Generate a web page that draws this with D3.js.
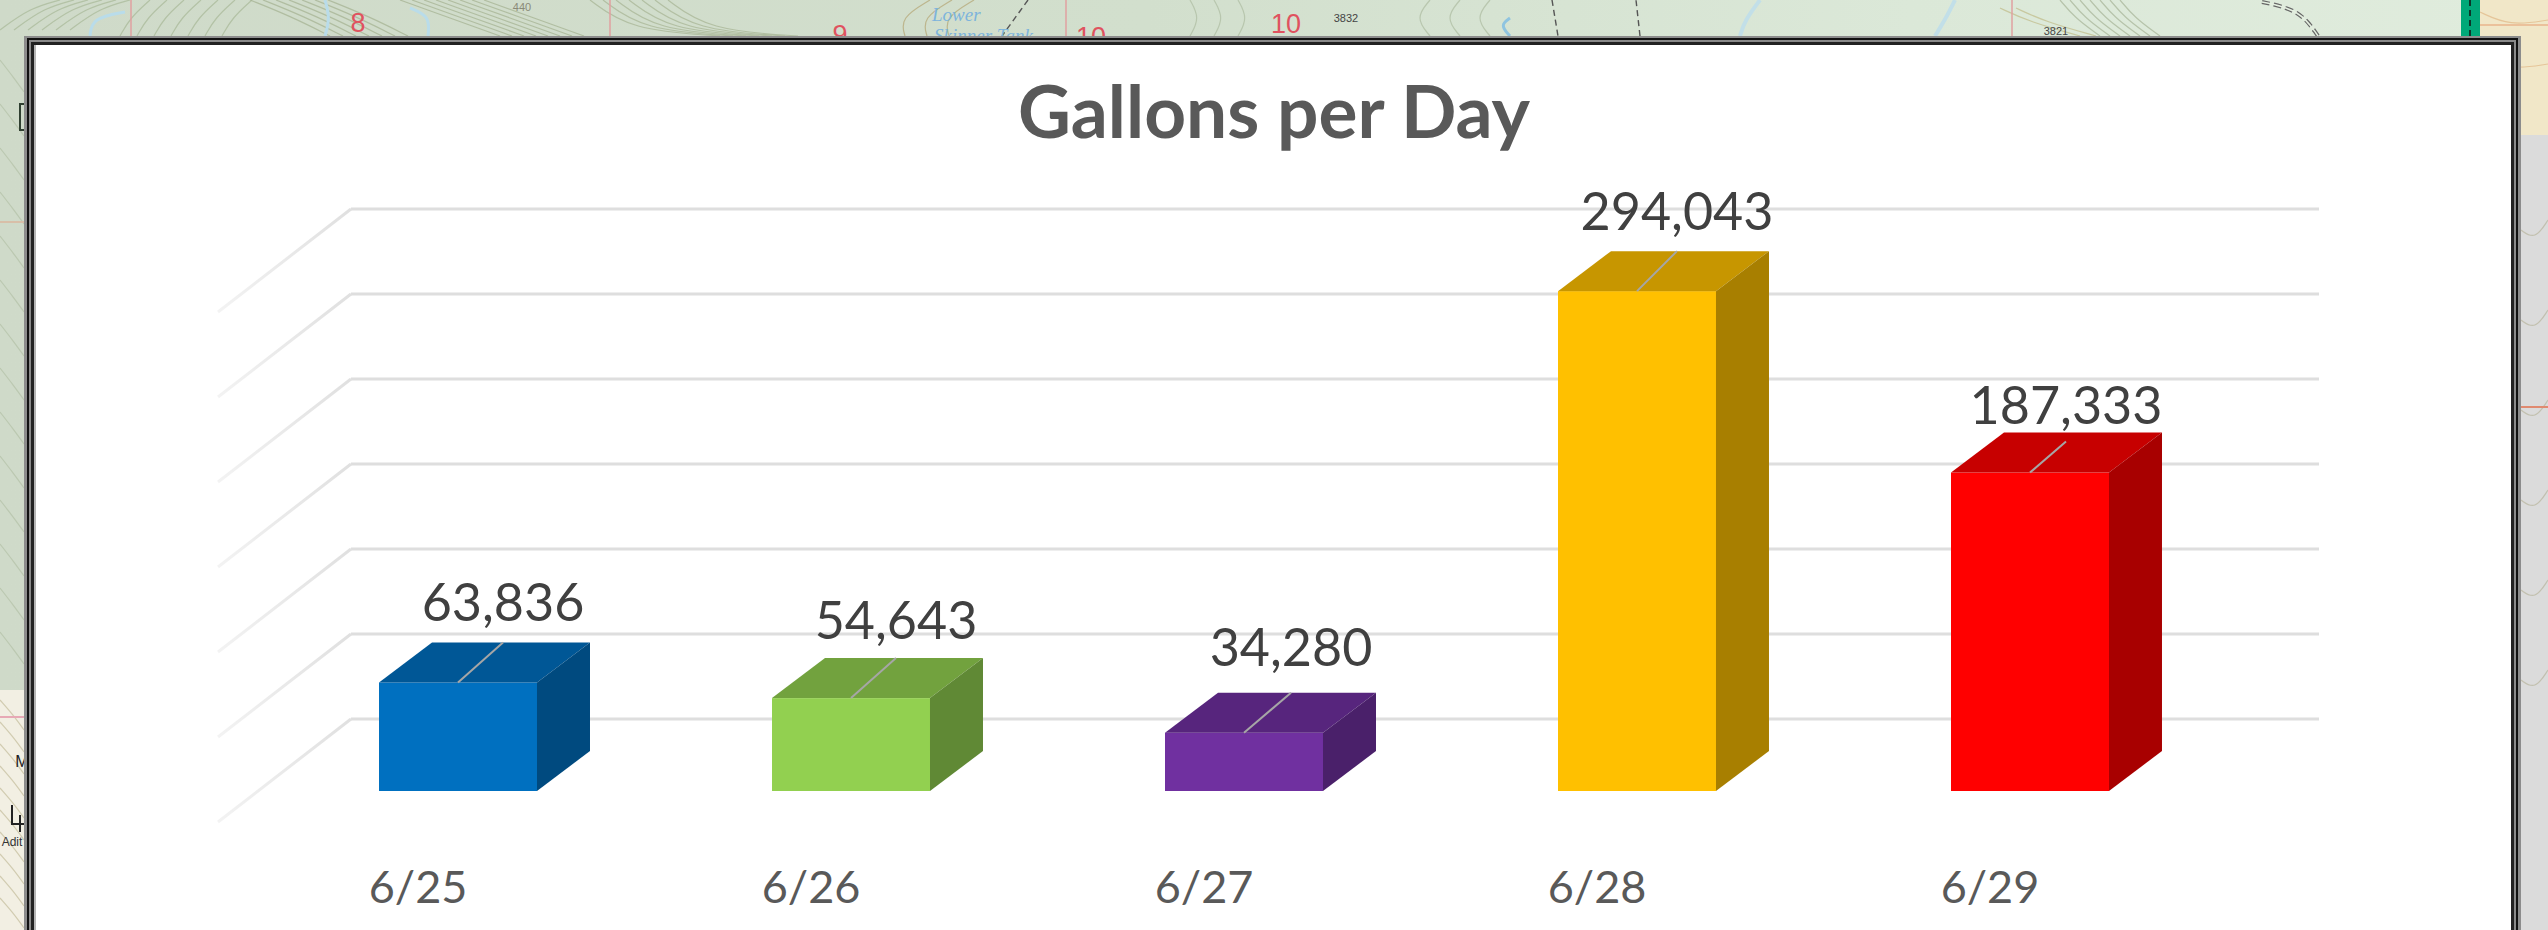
<!DOCTYPE html>
<html>
<head>
<meta charset="utf-8">
<title>Gallons per Day</title>
<script src="https://cdn.jsdelivr.net/npm/d3@7"></script>
<style>
    html, body { margin: 0; padding: 0; background: #fff; overflow: hidden; }
    svg { display: block; }
</style>
</head>
<body>
<svg id="vis" width="2548" height="930"></svg>
<script>
// chart data
var days = ['6/25', '6/26', '6/27', '6/28', '6/29'];
var gallons = [63836, 54643, 34280, 294043, 187333];
var gridValues = [0, 50000, 100000, 150000, 200000, 250000, 300000];
var barColors = ['#0070c0', '#92d050', '#7030a0', '#ffc000', '#ff0000'];

// labels were dragged by hand in the original, so each one has its own nudge
var labelNudgeX = [45, 45, 47, 40, 36];
var labelNudgeY = [-21, -19, -27, -21, -9];
var leaderRise = [40, 40, 40, 40, 31];

var width = 2548, height = 930;
var panel = { left: 36, top: 45, right: 2511 };
var wallBase = 719, floorFront = 791;
var barDepth = { x: 53, y: 40 };
var wallDepth = { x: -133, y: 103 };

var svg = d3.select('#vis');

var xScale = d3.scaleBand()
    .domain(days)
    .range([144, 2344])
    .padding(0.598);

var yScale = d3.scaleLinear()
    .domain([0, 300000])
    .range([0, 510]);

drawMap();
drawPanel();
drawGrid();
drawBars();
drawLabels();

function drawMap() {
    var defs = svg.append('defs');
    var topFill = defs.append('linearGradient').attr('id', 'top-fill');
    topFill.append('stop').attr('offset', '0').attr('stop-color', '#cfdac9');
    topFill.append('stop').attr('offset', '0.45').attr('stop-color', '#d2dfcd');
    topFill.append('stop').attr('offset', '0.75').attr('stop-color', '#dbe8d8');
    topFill.append('stop').attr('offset', '1').attr('stop-color', '#e0ecdd');

    var map = svg.append('g').attr('id', 'map');
    map.append('rect').attr('width', width).attr('height', height).attr('fill', 'url(#top-fill)');
    map.append('rect').attr('y', 690).attr('width', 24).attr('height', 240).attr('fill', '#f2efe3');
    map.append('rect').attr('x', 2480).attr('width', 68).attr('height', 135).attr('fill', '#f1e7c8');
    map.append('rect').attr('x', 2480).attr('y', 135).attr('width', 68).attr('height', 795).attr('fill', '#dbdbdb');

    var curve = d3.line().curve(d3.curveBasis);
    var contours = [
        { pts: [[0, 30], [30, 8], [60, 0]], n: 6, dx: 14, color: '#a9b99a' },
        { pts: [[120, 36], [130, 18], [150, 0]], n: 7, dx: 17, color: '#a9b99a' },
        { pts: [[250, 0], [290, 16], [330, 36]], n: 7, dx: 13, color: '#a5b393' },
        { pts: [[400, 0], [450, 18], [500, 36]], n: 8, dx: 12, color: '#a5b393' },
        { pts: [[590, 0], [630, 30], [720, 36]], n: 7, dx: 13, color: '#a8b596' },
        { pts: [[930, 0], [900, 18], [905, 36]], n: 3, dx: 22, color: '#b6a878' },
        { pts: [[1190, 36], [1200, 18], [1190, 0]], n: 3, dx: 24, color: '#afbea3' },
        { pts: [[1430, 36], [1415, 18], [1430, 0]], n: 3, dx: 30, color: '#afbea3' },
        { pts: [[2060, 0], [2075, 18], [2100, 36]], n: 7, dx: 10, color: '#a9b79b' },
        { pts: [[2000, 8], [2030, 22], [2080, 36]], n: 2, dx: 16, color: '#c1bd8c' },
        { pts: [[0, 60], [14, 78], [24, 92]], n: 14, dy: 44, color: '#b4c2a8' },
        { pts: [[0, 700], [14, 716], [24, 730]], n: 10, dy: 22, color: '#c6bf9f' },
        { pts: [[2480, 12], [2510, 26], [2548, 20]], n: 2, dy: 44, color: '#e2b98a' },
        { pts: [[2521, 230], [2535, 240], [2548, 220]], n: 6, dy: 90, color: '#b9b7a0' }
    ];
    contours.forEach(function (c) {
        d3.range(c.n).forEach(function (i) {
            map.append('path')
                .attr('d', curve(c.pts))
                .attr('transform', 'translate(' + (i * (c.dx || 0)) + ',' + (i * (c.dy || 0)) + ')')
                .attr('fill', 'none')
                .attr('stroke', c.color)
                .attr('stroke-width', 1.2)
                .attr('opacity', 0.75);
        });
    });

    // section lines and roads
    [[131, 0, 131, 36], [610, 0, 610, 36], [1066, 0, 1066, 36], [2012, 0, 2012, 36]].forEach(function (l) {
        map.append('line').attr('x1', l[0]).attr('y1', l[1]).attr('x2', l[2]).attr('y2', l[3])
            .attr('stroke', '#e0a0a0').attr('stroke-width', 1.5);
    });
    map.append('line').attr('x1', 0).attr('y1', 222).attr('x2', 24).attr('y2', 222)
        .attr('stroke', '#d8bfa8').attr('stroke-width', 2);
    map.append('line').attr('x1', 0).attr('y1', 717).attr('x2', 24).attr('y2', 717)
        .attr('stroke', '#e7a9b5').attr('stroke-width', 2);
    map.append('line').attr('x1', 2521).attr('y1', 407).attr('x2', 2548).attr('y2', 407)
        .attr('stroke', '#e08a70').attr('stroke-width', 2);
    map.append('line').attr('x1', 2480).attr('y1', 25).attr('x2', 2548).attr('y2', 25)
        .attr('stroke', '#e8b48c').attr('stroke-width', 1.5);
    [[1028, 0, 1002, 36], [1552, 0, 1558, 36], [1640, 36, 1636, 0]].forEach(function (l) {
        map.append('line').attr('x1', l[0]).attr('y1', l[1]).attr('x2', l[2]).attr('y2', l[3])
            .attr('stroke', '#555').attr('stroke-width', 1.4).attr('stroke-dasharray', '6 4');
    });
    map.append('path')
        .attr('d', curve([[2262, 2], [2300, 10], [2318, 36]]))
        .attr('fill', 'none').attr('stroke', '#666').attr('stroke-width', 4).attr('stroke-dasharray', '8 4');
    map.append('path')
        .attr('d', curve([[2262, 2], [2300, 10], [2318, 36]]))
        .attr('fill', 'none').attr('stroke', '#e4efe0').attr('stroke-width', 1.5);

    // creek and water
    [[[90, 36], [92, 18], [125, 12]], [[325, 36], [330, 18], [325, 0]], [[410, 8], [430, 16], [428, 36]]].forEach(function (pts) {
        map.append('path').attr('d', curve(pts)).attr('fill', 'none')
            .attr('stroke', '#b9dcea').attr('stroke-width', 3);
    });
    map.append('path').attr('d', curve([[1510, 36], [1500, 25], [1510, 18]])).attr('fill', 'none')
        .attr('stroke', '#8fc4e0').attr('stroke-width', 3);
    map.append('path').attr('d', curve([[1760, 0], [1745, 20], [1740, 36]])).attr('fill', 'none')
        .attr('stroke', '#c2dfe8').attr('stroke-width', 4);
    map.append('path').attr('d', curve([[1955, 0], [1945, 20], [1935, 36]])).attr('fill', 'none')
        .attr('stroke', '#c2dfe8').attr('stroke-width', 4);

    // green boundary strip
    map.append('rect').attr('x', 2461).attr('width', 19).attr('height', 36).attr('fill', '#00a878');
    map.append('line').attr('x1', 2470).attr('y1', 0).attr('x2', 2470).attr('y2', 36)
        .attr('stroke', '#111').attr('stroke-width', 1.5).attr('stroke-dasharray', '6 4');

    // map lettering
    var mapText = [
        { t: '8', x: 358, y: 32, size: 27, fill: '#e0525f' },
        { t: '9', x: 840, y: 44, size: 27, fill: '#e0525f' },
        { t: '10', x: 1091, y: 46, size: 27, fill: '#e0525f' },
        { t: '10', x: 1286, y: 33, size: 27, fill: '#e0525f' },
        { t: '3832', x: 1346, y: 22, size: 11, fill: '#444' },
        { t: '3821', x: 2056, y: 35, size: 11, fill: '#444' },
        { t: '440', x: 522, y: 11, size: 11, fill: '#8a8a78' },
        { t: 'Adit', x: 12, y: 846, size: 12, fill: '#333' },
        { t: 'M', x: 22, y: 767, size: 16, fill: '#222' }
    ];
    map.selectAll('text.map-num').data(mapText).enter().append('text')
        .attr('class', 'map-num')
        .attr('x', function (d) { return d.x; })
        .attr('y', function (d) { return d.y; })
        .attr('text-anchor', 'middle')
        .attr('font-family', 'Liberation Sans')
        .attr('font-size', function (d) { return d.size; })
        .attr('fill', function (d) { return d.fill; })
        .text(function (d) { return d.t; });

    map.append('text').attr('x', 932).attr('y', 21).attr('font-family', 'Liberation Serif')
        .attr('font-style', 'italic').attr('font-size', 19).attr('fill', '#7db4dc').text('Lower');
    map.append('text').attr('x', 934).attr('y', 42).attr('font-family', 'Liberation Serif')
        .attr('font-style', 'italic').attr('font-size', 19).attr('fill', '#7db4dc').text('Skinner Tank');

    // adit symbol on the left edge
    map.append('path').attr('d', 'M12,805V824H24M20,815V832')
        .attr('fill', 'none').attr('stroke', '#222').attr('stroke-width', 2);
    map.append('path').attr('d', 'M24,104H20V130H24')
        .attr('fill', 'none').attr('stroke', '#2f3f30').attr('stroke-width', 2);
}

function drawPanel() {
    var g = svg.append('g').attr('id', 'panel');
    // nested frame, outer to inner
    var rings = [
        { inset: 0, color: '#8c8c8c' },
        { inset: 3, color: '#111111' },
        { inset: 5, color: '#8a8a8a' },
        { inset: 7, color: '#222222' },
        { inset: 10, color: '#b5b5b5' }
    ];
    rings.forEach(function (r) {
        g.append('rect')
            .attr('x', 24 + r.inset)
            .attr('y', 36 + Math.max(0, r.inset - 1))
            .attr('width', 2521 - 24 - 2 * r.inset)
            .attr('height', height)
            .attr('fill', r.color);
    });
    g.append('rect')
        .attr('x', panel.left)
        .attr('y', panel.top)
        .attr('width', panel.right - panel.left)
        .attr('height', height)
        .attr('fill', '#fff');

    g.append('text')
        .attr('x', 1274)
        .attr('y', 138)
        .attr('text-anchor', 'middle')
        .attr('font-family', 'Lato')
        .attr('font-weight', 700)
        .attr('font-size', 73)
        .attr('fill', '#595959')
        .text('Gallons per Day');
}

function drawGrid() {
    var defs = svg.select('defs');
    var fade = defs.append('linearGradient')
        .attr('id', 'wall-fade')
        .attr('x1', 1).attr('y1', 0).attr('x2', 0).attr('y2', 1);
    fade.append('stop').attr('offset', '0').attr('stop-color', '#e0e0e0');
    fade.append('stop').attr('offset', '1').attr('stop-color', '#f3f3f3');

    var grid = svg.append('g').attr('id', 'grid');
    var gridLeft = 351, gridRight = 2319;

    grid.selectAll('.back-line')
        .data(gridValues)
        .enter().append('line')
        .attr('class', 'back-line')
        .attr('x1', gridLeft)
        .attr('x2', gridRight)
        .attr('y1', function (d) { return wallBase - yScale(d); })
        .attr('y2', function (d) { return wallBase - yScale(d); })
        .attr('stroke', '#dedede')
        .attr('stroke-width', 3);

    grid.selectAll('.wall-line')
        .data(gridValues)
        .enter().append('line')
        .attr('class', 'wall-line')
        .attr('x1', gridLeft)
        .attr('x2', gridLeft + wallDepth.x)
        .attr('y1', function (d) { return wallBase - yScale(d); })
        .attr('y2', function (d) { return wallBase - yScale(d) + wallDepth.y; })
        .attr('stroke', 'url(#wall-fade)')
        .attr('stroke-width', 3);
}

function drawBars() {
    var bars = svg.append('g').attr('id', 'bars')
        .selectAll('g')
        .data(gallons)
        .enter().append('g');

    function x0(i) { return xScale(days[i]); }
    function x1(i) { return x0(i) + xScale.bandwidth(); }
    function top(d) { return floorFront - yScale(d); }
    function shade(i, k) {
        var c = d3.rgb(barColors[i]);
        return d3.rgb(c.r * k, c.g * k, c.b * k).formatHex();
    }

    bars.append('rect')
        .attr('x', function (d, i) { return x0(i); })
        .attr('y', top)
        .attr('width', xScale.bandwidth())
        .attr('height', function (d) { return yScale(d); })
        .attr('fill', function (d, i) { return barColors[i]; });

    // top face
    bars.append('path')
        .attr('d', function (d, i) {
            return 'M' + x0(i) + ',' + top(d) +
                'L' + (x0(i) + barDepth.x) + ',' + (top(d) - barDepth.y) +
                'L' + (x1(i) + barDepth.x) + ',' + (top(d) - barDepth.y) +
                'L' + x1(i) + ',' + top(d) + 'Z';
        })
        .attr('fill', function (d, i) { return shade(i, 0.78); });

    // side face
    bars.append('path')
        .attr('d', function (d, i) {
            return 'M' + x1(i) + ',' + top(d) +
                'L' + (x1(i) + barDepth.x) + ',' + (top(d) - barDepth.y) +
                'L' + (x1(i) + barDepth.x) + ',' + (floorFront - barDepth.y) +
                'L' + x1(i) + ',' + floorFront + 'Z';
        })
        .attr('fill', function (d, i) { return shade(i, 0.66); });
}

function drawLabels() {
    var band = xScale.bandwidth();

    // leader lines run from the front top edge up to the label
    svg.append('g').attr('id', 'leaders')
        .selectAll('line')
        .data(gallons)
        .enter().append('line')
        .attr('x1', function (d, i) { return xScale(days[i]) + band / 2; })
        .attr('y1', function (d) { return floorFront - yScale(d); })
        .attr('x2', function (d, i) { return xScale(days[i]) + band / 2 + labelNudgeX[i]; })
        .attr('y2', function (d, i) { return floorFront - yScale(d) - leaderRise[i]; })
        .attr('stroke', '#a6a6a6')
        .attr('stroke-width', 2);

    svg.append('g').attr('id', 'values')
        .selectAll('text')
        .data(gallons)
        .enter().append('text')
        .attr('x', function (d, i) { return xScale(days[i]) + band / 2 + labelNudgeX[i]; })
        .attr('y', function (d, i) { return floorFront - yScale(d) - barDepth.y + labelNudgeY[i]; })
        .attr('text-anchor', 'middle')
        .attr('font-family', 'Lato')
        .attr('font-size', 52)
        .attr('fill', '#404040')
        .text(d3.format(','));

    var axis = d3.axisBottom(xScale).tickSize(0).tickPadding(0);
    var axisG = svg.append('g')
        .attr('id', 'x-axis')
        .attr('transform', 'translate(-40,903)')
        .call(axis);
    axisG.select('.domain').remove();
    axisG.selectAll('text')
        .attr('y', 0)
        .attr('dy', 0)
        .attr('font-family', 'Lato')
        .attr('font-size', 45)
        .attr('fill', '#595959');
}
</script>
</body>
</html>
